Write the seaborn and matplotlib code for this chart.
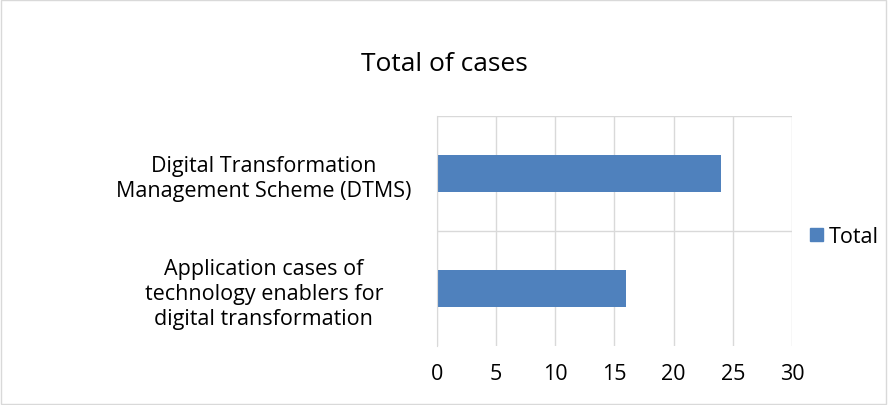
import matplotlib
matplotlib.use("Agg")
import matplotlib.pyplot as plt
import seaborn as sns
import pandas as pd
from matplotlib.patches import Rectangle, Patch

categories = ["Digital Transformation\nManagement Scheme (DTMS)",
              "Application cases of\ntechnology enablers for\ndigital transformation"]
values = [24, 16]
ticks = [0, 5, 10, 15, 20, 25, 30]

plt.rcParams["font.family"] = "Open Sans"
df = pd.DataFrame({"cat": categories, "Total": values})

fig = plt.figure(figsize=(8.88, 4.06), dpi=100)
ax = fig.add_axes([0.492, 0.145, 0.4, 0.567])
sns.barplot(data=df, y="cat", x="Total", color="#4F81BD", saturation=1, width=0.32, ax=ax)
ax.set_xlim(0, 30)
ax.set_ylim(1.5, -0.5)
ax.set_xticks(ticks)
ax.tick_params(axis="x", labelsize=15.5, length=0, pad=12, colors="black")
ax.tick_params(axis="y", labelsize=15.5, length=0, pad=30)
for t in ax.get_yticklabels():
    t.set_horizontalalignment("center")
    t.set_linespacing(1.25)
    t.set_x(-0.37)
ax.set_xlabel(""); ax.set_ylabel("")
ax.grid(axis="x", color="#D9D9D9", lw=1)
ax.set_axisbelow(True)
ax.axhline(0.5, color="#D9D9D9", lw=1)
ax.axhline(-0.5, color="#D9D9D9", lw=1)
for s in ["top", "right", "bottom"]:
    ax.spines[s].set_visible(False)
ax.spines["left"].set_color("#D9D9D9")
fig.text(0.5, 0.825, "Total of cases", ha="center", fontsize=19)
fig.legend(handles=[Patch(color="#4F81BD", label="Total")], loc="center left",
           bbox_to_anchor=(0.89, 0.415), frameon=False, fontsize=15.5,
           handlelength=0.6, handleheight=0.6, handletextpad=0.3)
fig.patches.append(Rectangle((0.001, 0.002), 0.997, 0.995, transform=fig.transFigure,
                             fill=False, edgecolor="#D9D9D9", lw=1))
fig.savefig("out.png", dpi=100)
